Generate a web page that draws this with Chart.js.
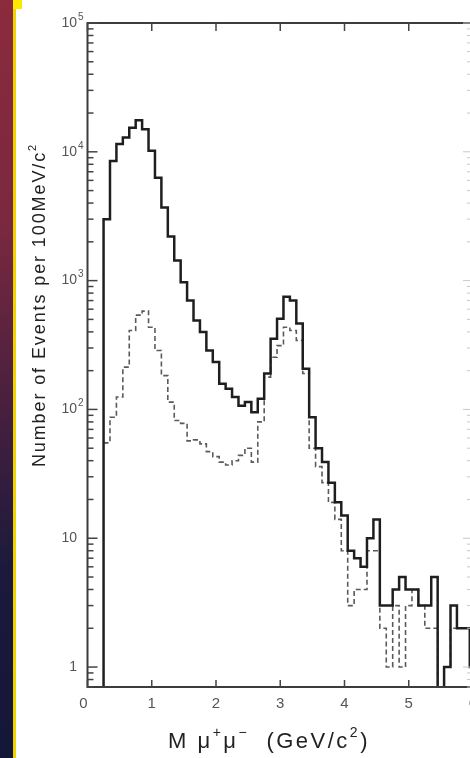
<!DOCTYPE html>
<html>
<head>
<meta charset="utf-8">
<script src="https://cdn.jsdelivr.net/npm/chart.js@4.4.0/dist/chart.umd.min.js"></script>
<style>
  html, body { margin: 0; padding: 0; background: #fff; overflow: hidden; }
  body { width: 470px; height: 758px; position: relative; }
  #chart { position: absolute; left: 0; top: 0; }
  #strip { position: absolute; left: 0; top: 0; width: 13px; height: 758px;
    background: linear-gradient(#8b2b3c 0%, #7a2840 30%, #3a1e3e 60%, #1b1a3c 75%, #141638 100%); }
  #edge { position: absolute; left: 13px; top: 0; width: 3px; height: 758px; background: #f0d400; }
  #corner { position: absolute; left: 13px; top: 0; width: 9px; height: 9px; background: #ffe800; }
</style>
</head>
<body>
<canvas id="chart" width="480" height="758"></canvas>
<div id="strip"></div>
<div id="edge"></div>
<div id="corner"></div>
<script>
// bin centres in GeV/c^2, 100 MeV wide
const massBins = [0.3, 0.4, 0.5, 0.6, 0.7, 0.8, 0.9, 1.0, 1.1, 1.2,
  1.3, 1.4, 1.5, 1.6, 1.7, 1.8, 1.9, 2.0, 2.1, 2.2,
  2.3, 2.4, 2.5, 2.6, 2.7, 2.8, 2.9, 3.0, 3.1, 3.2,
  3.3, 3.4, 3.5, 3.6, 3.7, 3.8, 3.9, 4.0, 4.1, 4.2,
  4.3, 4.4, 4.5, 4.6, 4.7, 4.8, 4.9, 5.0, 5.1, 5.2,
  5.3, 5.4, 5.5, 5.6, 5.7, 5.8, 5.9, 6.0];
const BIN_WIDTH = 0.1;

// solid histogram
const allEvents = [3000, 8500, 11500, 12900, 15400, 17600, 15000, 10200, 6300, 3700,
  2200, 1430, 970, 700, 490, 400, 287, 233, 158, 145,
  125, 107, 114, 95, 121, 190, 353, 505, 750, 700,
  465, 207, 87, 50, 39, 27, 19, 15, 8, 7,
  6, 10, 14, 3, 3, 4, 5, 4, 4, 3,
  3, 5, 0, 1, 3, 2, 2, 1];

// dashed histogram
const subsetEvents = [55, 87, 125, 213, 410, 540, 580, 435, 287, 183,
  114, 82, 78, 57, 58, 54, 47, 43, 39, 37,
  40, 44, 50, 39, 80, 178, 254, 313, 435, 410,
  343, 190, 50, 36, 27, 19, 14, 8, 3, 4,
  4, 8, 8, 2, 1, 3, 1, 3, 4, 3,
  2, 2, 0, 1, 2, 2, 2, 1];

const xTicks = [0, 1, 2, 3, 4, 5, 6];
const yDecades = [0, 1, 2, 3, 4, 5];

const FLOOR = 0.3; // below the axis, used for empty bins

function histPoints(values, dropStart) {
  const pts = [];
  if (dropStart) pts.push({x: massBins[0] - BIN_WIDTH / 2, y: FLOOR});
  massBins.forEach((m, i) => {
    pts.push({x: m - BIN_WIDTH / 2, y: values[i] > 0 ? values[i] : FLOOR});
  });
  pts.push({x: massBins[massBins.length - 1] + BIN_WIDTH / 2, y: FLOOR});
  return pts;
}

function drawParts(ctx, parts, cx, cy, size, family) {
  const fonts = parts.map(p => (p[1] ? Math.round(size * 0.62) : size) + 'px ' + family);
  const widths = parts.map((p, i) => { ctx.font = fonts[i]; return ctx.measureText(p[0]).width; });
  let x = cx - widths.reduce((s, w) => s + w, 0) / 2;
  parts.forEach((p, i) => {
    ctx.font = fonts[i];
    ctx.fillText(p[0], x, p[1] ? cy - size * 0.4 : cy);
    x += widths[i];
  });
}

const framePlugin = {
  id: 'frame',
  afterDatasetsDraw(chart) {
    const {ctx, chartArea: a, scales: {x, y}} = chart;
    ctx.save();
    ctx.lineCap = 'butt';

    // frame
    ctx.strokeStyle = '#3c3c3c';
    ctx.lineWidth = 2;
    ctx.strokeRect(a.left, a.top, a.right - a.left, a.bottom - a.top);

    // y ticks (inside, both sides)
    for (let k = -1; k <= 5; k++) {
      for (let m = 1; m <= 9; m++) {
        const v = m * Math.pow(10, k);
        if (v < y.min || v > y.max) continue;
        const py = y.getPixelForValue(v);
        const len = m === 1 ? 10 : 6;
        ctx.strokeStyle = '#444';
        ctx.lineWidth = 1.5;
        ctx.beginPath();
        ctx.moveTo(a.left, py); ctx.lineTo(a.left + len, py);
        ctx.stroke();
        ctx.strokeStyle = '#c8c8c8';
        ctx.lineWidth = 1;
        ctx.beginPath();
        ctx.moveTo(a.right, py); ctx.lineTo(a.right - len, py);
        ctx.stroke();
      }
    }

    // x ticks (inside, top and bottom)
    ctx.strokeStyle = '#444';
    ctx.lineWidth = 1.5;
    xTicks.forEach(t => {
      const px = x.getPixelForValue(t);
      ctx.beginPath();
      ctx.moveTo(px, a.bottom); ctx.lineTo(px, a.bottom - 7);
      ctx.moveTo(px, a.top); ctx.lineTo(px, a.top + 8);
      ctx.stroke();
    });

    // y labels
    ctx.fillStyle = '#555';
    ctx.textBaseline = 'middle';
    yDecades.forEach(k => {
      const py = y.getPixelForValue(Math.pow(10, k));
      ctx.font = '14px "Liberation Sans"';
      ctx.textAlign = 'right';
      const base = k === 0 ? '1' : '10';
      ctx.fillText(base, 77, py);
      if (k > 1) {
        ctx.font = '10px "Liberation Sans"';
        ctx.textAlign = 'left';
        ctx.fillText(String(k), 78, py - 6);
      }
    });

    // x labels
    ctx.font = '15px "Liberation Sans"';
    ctx.textAlign = 'center';
    xTicks.forEach(t => {
      const px = x.getPixelForValue(t) - (t === 0 ? 4 : 0);
      ctx.fillText(String(t), px, 704);
    });

    // axis titles
    ctx.fillStyle = '#222';
    ctx.textAlign = 'left';
    ctx.letterSpacing = '2.5px';
    drawParts(ctx, [['M ', false], ['\u03bc', false], ['+', true], ['\u03bc', false], ['\u2212', true],
      ['  (GeV/c', false], ['2', true], [')', false]], 269, 742, 22, '"Liberation Sans"');

    ctx.save();
    ctx.translate(40, 305);
    ctx.rotate(-Math.PI / 2);
    ctx.letterSpacing = '1.9px';
    drawParts(ctx, [['Number of Events per 100MeV/c', false], ['2', true]], 0, 0, 18, '"Liberation Sans"');
    ctx.restore();

    ctx.restore();
  }
};

new Chart(document.getElementById('chart'), {
  type: 'line',
  data: {
    datasets: [{
      label: 'all',
      data: histPoints(allEvents, true),
      borderColor: '#1e1e1e',
      borderWidth: 2.5,
      stepped: 'before',
      pointRadius: 0,
      fill: false,
      borderJoinStyle: 'miter'
    }, {
      label: 'subset',
      data: histPoints(subsetEvents, false),
      borderColor: '#5a5a5a',
      borderWidth: 1.6,
      borderDash: [5, 3],
      stepped: 'before',
      pointRadius: 0,
      fill: false,
      borderJoinStyle: 'miter'
    }]
  },
  options: {
    responsive: false,
    animation: false,
    layout: { padding: { left: 87.5, top: 23, right: 7, bottom: 71 } },
    scales: {
      x: { type: 'linear', min: 0, max: 6, display: false },
      y: { type: 'logarithmic', min: 0.7, max: 100000, display: false }
    },
    plugins: {
      legend: { display: false },
      tooltip: { enabled: false }
    }
  },
  plugins: [framePlugin]
});
</script>
</body>
</html>
